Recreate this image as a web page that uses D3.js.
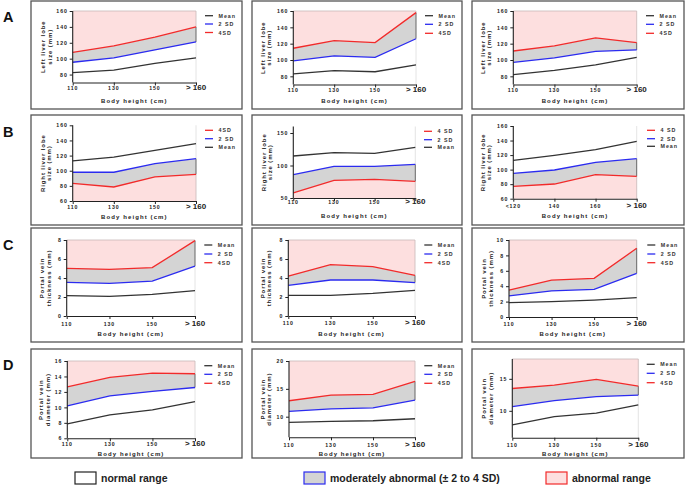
<!DOCTYPE html>
<html><head><meta charset="utf-8">
<script src="https://cdn.jsdelivr.net/npm/d3@7"></script>
<style>body{margin:0;background:#fff} svg{display:block}</style>
</head><body>
<svg id="c" width="685" height="489"></svg>
<script>
// ---------- DATA ----------
const heights   = ["110", "130", "150", "> 160"];
const heightsB3 = ["<120", "140", "160", "> 160"];

const A1_mean = [82.5, 85.5, 94, 101];   const A1_sd2 = [95.5, 101, 111, 121];   const A1_sd4 = [108, 116, 127, 140];
const A2_mean = [83, 87, 85.6, 94];      const A2_sd2 = [99, 105, 103.3, 126];   const A2_sd4 = [114.4, 123.8, 121.3, 158];
const A3_mean = [82, 87.4, 94, 103.3];   const A3_sd2 = [97.2, 102.5, 110.6, 112.3]; const A3_sd4 = [111, 117.2, 127, 121.3];

const B1_mean = [113, 118, 127, 135.7];  const B1_sd2 = [98, 98, 109.3, 116];    const B1_sd4 = [83.4, 78.5, 91.8, 95.3];
const B2_mean = [114.6, 119.7, 118.8, 128]; const B2_sd2 = [85.8, 98.8, 98.8, 101.8]; const B2_sd4 = [57.7, 77.2, 78.7, 75.7];
const B3_mean = [112.8, 119.6, 127.4, 138.9]; const B3_sd2 = [94.9, 99.5, 110, 115]; const B3_sd4 = [77, 80.2, 93, 90.8];

const C1_mean = [2.14, 2.07, 2.28, 2.67]; const C1_sd2 = [3.55, 3.44, 3.68, 5.26]; const C1_sd4 = [5.02, 4.91, 5.09, 7.93];
const C2_mean = [2.18, 2.18, 2.39, 2.7];  const C2_sd2 = [3.23, 3.79, 3.79, 3.51]; const C2_sd4 = [4.21, 5.4, 5.19, 4.28];
const C3_mean = [1.86, 1.99, 2.2, 2.51];  const C3_sd2 = [2.73, 3.38, 3.6, 5.67];  const C3_sd4 = [3.5, 4.8, 5.02, 8.92];

const D1_mean = [7.86, 9.03, 9.68, 10.75]; const D1_sd2 = [10.2, 11.5, 12.06, 12.57]; const D1_sd4 = [12.66, 13.87, 14.44, 14.35];
const D2_mean = [8.97, 9.15, 9.27, 9.63];  const D2_sd2 = [10.95, 11.42, 11.6, 12.99]; const D2_sd4 = [12.86, 13.88, 14.0, 16.35];
const D3_mean = [7.81, 9.11, 9.64, 10.94]; const D3_sd2 = [10.67, 11.61, 12.23, 12.45]; const D3_sd4 = [13.49, 14.01, 14.9, 13.86];

const yTicksLiver = [80, 100, 120, 140, 160];
const yTicksB1 = [60, 80, 100, 120, 140, 160];
const yTicksB2 = [50, 100, 150];
const yTicksC12 = [0, 2, 4, 6, 8];
const yTicksC3 = [0, 2, 4, 6, 8, 10];
const yTicksD1 = [6, 8, 10, 12, 14, 16];
const yTicksD2 = [10, 15, 20];
const yTicksD3 = [10, 15];

const legendUpper = ["Mean", "2 SD", "4SD"];
const legendB1 = ["4SD", "2 SD", "Mean"];
const legendB23 = ["4 SD", "2 SD", "Mean"];

const titleA = ["Left liver lobe", "size (mm)"];
const titleB = ["Right liver lobe", "size (mm)"];
const titleC = ["Portal vein", "thickness (mm)"];
const titleD = ["Portal vein", "diameter (mm)"];
const xTitle = "Body height (cm)";
const bottomLegend = ["normal range", "moderately abnormal (\u00b1 2 to 4 SD)", "abnormal range"];

// ---------- STYLE ----------
const PINK = "#fddfdf", GRAY = "#d4d4d4";
const RED = "#f22a2a", BLUE = "#2b2bf0", BLACK = "#333";
const FONT = "'Liberation Sans', Arial, sans-serif";

// ---------- LAYOUT ----------
const panels = [
  {letter:"A", ly:22, box:[31,1,242,109], x:[72.7,196], dom:[70,160], rng:[82.5,11], cats:heights, mean:A1_mean, sd2:A1_sd2, sd4:A1_sd4, kind:"up", ticks:yTicksLiver, leg:legendUpper, legX:205, legY:[15.7,24,32.5], yt:titleA, ytX:[43,49.5], tickY:90, xtY:103},
  {box:[252,1,462,109], x:[293.3,416], dom:[70,160], rng:[84.5,11], cats:heights, mean:A2_mean, sd2:A2_sd2, sd4:A2_sd4, kind:"up", ticks:yTicksLiver, leg:legendUpper, legX:425, legY:[15.7,24.3,33.3], yt:titleA, ytX:[262.7,268.5], tickY:92, xtY:103},
  {box:[472,1,684,109], x:[513.3,636.7], dom:[70,160], rng:[84.5,11], cats:heights, mean:A3_mean, sd2:A3_sd2, sd4:A3_sd4, kind:"up", ticks:yTicksLiver, leg:legendUpper, legX:646, legY:[15.7,24.3,33.3], yt:titleA, ytX:[483.3,489.3], tickY:92, xtY:103},

  {letter:"B", ly:137, box:[31,115,242,225], x:[72.7,196], dom:[60,160], rng:[201,125.3], cats:heights, mean:B1_mean, sd2:B1_sd2, sd4:B1_sd4, kind:"down", ticks:yTicksB1, leg:legendB1, legX:205, legY:[130.3,138.7,147.3], yt:titleB, ytX:[42.7,49.3], tickY:209, xtY:219},
  {box:[252,115,462,225], x:[293.3,415.3], dom:[50,160], rng:[198,126.5], cats:heights, mean:B2_mean, sd2:B2_sd2, sd4:B2_sd4, kind:"down", ticks:yTicksB2, leg:legendB23, legX:424, legY:[131.3,139.7,147.3], yt:titleB, ytX:[264,270], tickY:204, xtY:218},
  {box:[472,115,684,225], x:[513.3,636.7], dom:[60,160], rng:[198.7,126], cats:heightsB3, mean:B3_mean, sd2:B3_sd2, sd4:B3_sd4, kind:"down", ticks:yTicksB1, leg:legendB23, legX:647, legY:[130.3,138.7,146.3], yt:titleB, ytX:[483,489], tickY:208, xtY:218},

  {letter:"C", ly:250, box:[31,228,242,342], x:[66.7,195], dom:[0,8], rng:[316,240], cats:heights, mean:C1_mean, sd2:C1_sd2, sd4:C1_sd4, kind:"up", ticks:yTicksC12, leg:legendUpper, legX:204.3, legY:[245,254,262.7], yt:titleC, ytX:[41.7,49], tickY:325.5, xtY:335.5},
  {box:[252,228,462,342], x:[288.3,415], dom:[0,8], rng:[316,240], cats:heights, mean:C2_mean, sd2:C2_sd2, sd4:C2_sd4, kind:"up", ticks:yTicksC12, leg:legendUpper, legX:424.3, legY:[245,254,262.7], yt:titleC, ytX:[262.7,268.7], tickY:324.5, xtY:336},
  {box:[472,228,684,342], x:[509,636.7], dom:[0,10], rng:[317,240], cats:heights, mean:C3_mean, sd2:C3_sd2, sd4:C3_sd4, kind:"up", ticks:yTicksC3, leg:legendUpper, legX:647.3, legY:[245,254,262.7], yt:titleC, ytX:[484.3,491], tickY:325.5, xtY:336},

  {letter:"D", ly:370, box:[31,349,242,458], x:[67.3,195], dom:[6,16], rng:[438.3,361], cats:heights, mean:D1_mean, sd2:D1_sd2, sd4:D1_sd4, kind:"up", ticks:yTicksD1, leg:legendUpper, legX:204.3, legY:[365.7,374.3,383.3], yt:titleD, ytX:[40.7,48.3], tickY:446, xtY:456},
  {box:[252,349,462,458], x:[289,415], dom:[6.3,20], rng:[437.3,361], cats:heights, mean:D2_mean, sd2:D2_sd2, sd4:D2_sd4, kind:"up", ticks:yTicksD2, leg:legendUpper, legX:424.3, legY:[365.7,374.3,383.3], yt:titleD, ytX:[262.7,268.7], tickY:446.5, xtY:456},
  {box:[472,349,684,458], x:[512.3,638.3], dom:[5.8,18.1], rng:[437.7,359], cats:heights, mean:D3_mean, sd2:D3_sd2, sd4:D3_sd4, kind:"up", ticks:yTicksD3, leg:legendUpper, legX:646.7, legY:[364.3,373.3,382.7], yt:titleD, ytX:[484.3,491], tickY:446.5, xtY:456}
];

const svg = d3.select("#c");

function drawPanel(p) {
  const g = svg.append("g");
  g.append("rect").attr("x", p.box[0]).attr("y", p.box[1])
    .attr("width", p.box[2]-p.box[0]).attr("height", p.box[3]-p.box[1])
    .attr("fill", "none").attr("stroke", "#555").attr("stroke-width", 1.3);
  if (p.letter) {
    g.append("text").attr("x", 3).attr("y", p.ly).text(p.letter)
      .attr("font-family", FONT).attr("font-weight", "bold").attr("font-size", 14.5).attr("fill", "#111");
  }
  const x = d3.scalePoint().domain(p.cats).range(p.x).padding(0);
  const y = d3.scaleLinear().domain(p.dom).range(p.rng);
  const idx = d3.range(p.cats.length);
  const cx = i => x(p.cats[i]);
  const edge = p.kind === "up" ? p.dom[1] : p.dom[0];

  const pinkArea = d3.area().x(cx).y0(() => y(edge)).y1(i => y(p.sd4[i]));
  g.append("path").attr("d", pinkArea(idx)).attr("fill", PINK).attr("stroke", "none");
  if (p.kind === "up") {
    g.append("line").attr("x1", p.x[0]).attr("x2", p.x[1]).attr("y1", y(edge)).attr("y2", y(edge))
      .attr("stroke", "#c8b8b8").attr("stroke-width", 0.8);
  }
  g.append("line").attr("x1", p.x[1]).attr("x2", p.x[1]).attr("y1", y(edge)).attr("y2", y(p.sd4[3]))
    .attr("stroke", "#c8b8b8").attr("stroke-width", 0.8);
  const grayArea = d3.area().x(cx).y0(i => y(p.sd2[i])).y1(i => y(p.sd4[i]));
  g.append("path").attr("d", grayArea(idx)).attr("fill", GRAY).attr("stroke", "none");
  g.append("line").attr("x1", p.x[1]).attr("x2", p.x[1]).attr("y1", y(p.sd2[3])).attr("y2", y(p.sd4[3]))
    .attr("stroke", "#666").attr("stroke-width", 1);
  const lowEdge = p.kind === "up" ? p.dom[0] : p.dom[1];
  g.append("line").attr("x1", p.x[1]).attr("x2", p.x[1]).attr("y1", y(lowEdge)).attr("y2", y(p.sd2[3]))
    .attr("stroke", "#ddd").attr("stroke-width", 0.8);

  const line = d3.line().x(cx);
  const series = [[p.mean, BLACK], [p.sd2, BLUE], [p.sd4, RED]];
  series.forEach(([vals, col]) => {
    g.append("path").attr("d", line.y(i => y(vals[i]))(idx))
      .attr("fill", "none").attr("stroke", col).attr("stroke-width", 1.3);
  });

  const ya = g.append("g").attr("transform", `translate(${p.x[0]},0)`)
    .call(d3.axisLeft(y).tickValues(p.ticks).tickSize(3).tickPadding(2).tickSizeOuter(0));
  ya.select(".domain").attr("stroke", "#222").attr("stroke-width", 1.1).attr("d", `M0,${p.rng[0]}V${p.rng[1]}`);
  ya.selectAll(".tick line").attr("stroke", "#222").attr("stroke-width", 1);
  ya.selectAll(".tick text").attr("font-family", FONT).attr("font-weight", "bold")
    .attr("font-size", 5.2).attr("letter-spacing", 0.9).attr("fill", "#222");

  const xa = g.append("g").attr("transform", `translate(0,${p.rng[0]})`)
    .call(d3.axisBottom(x).tickSize(3).tickSizeOuter(0).tickFormat(() => ""));
  xa.select(".domain").attr("stroke", "#222").attr("stroke-width", 1.1);
  xa.selectAll(".tick line").attr("stroke", "#222").attr("stroke-width", 1);
  p.cats.forEach((c) => {
    const big = c === "> 160";
    g.append("text").attr("x", x(c)).attr("y", p.tickY).text(c)
      .attr("text-anchor", "middle").attr("font-family", FONT).attr("font-weight", "bold")
      .attr("font-size", big ? 8 : 5.2).attr("letter-spacing", big ? 0 : 0.9).attr("fill", "#222");
  });
  g.append("text").attr("x", (p.x[0]+p.x[1])/2).attr("y", p.xtY).text(xTitle)
    .attr("text-anchor", "middle").attr("font-family", FONT).attr("font-weight", "bold")
    .attr("font-size", 6).attr("letter-spacing", 1.1).attr("fill", "#222");
  const midY = (p.rng[0]+p.rng[1])/2;
  p.yt.forEach((t, k) => {
    g.append("text").attr("transform", `translate(${p.ytX[k]+2},${midY}) rotate(-90)`).text(t)
      .attr("text-anchor", "middle").attr("font-family", FONT).attr("font-weight", "bold")
      .attr("font-size", 6).attr("letter-spacing", 0.9).attr("fill", "#222");
  });
  p.leg.forEach((lab, k) => {
    const col = lab === "Mean" ? BLACK : (lab.indexOf("2") === 0 ? BLUE : RED);
    g.append("line").attr("x1", p.legX).attr("x2", p.legX+8).attr("y1", p.legY[k]).attr("y2", p.legY[k])
      .attr("stroke", col).attr("stroke-width", 1.3);
    g.append("text").attr("x", p.legX+13.5).attr("y", p.legY[k]+2).text(lab)
      .attr("font-family", FONT).attr("font-weight", "bold").attr("font-size", 5.3)
      .attr("letter-spacing", 1).attr("fill", "#333");
  });
}
panels.forEach(drawPanel);

const lg = [
  {x: 75, fill: "#fff", stroke: "#222"},
  {x: 304, fill: "#d4d4d4", stroke: "#2b2bf0"},
  {x: 546, fill: "#fddfdf", stroke: "#f22a2a"}
];
bottomLegend.forEach((t, i) => {
  svg.append("rect").attr("x", lg[i].x).attr("y", 472).attr("width", 21).attr("height", 12)
    .attr("fill", lg[i].fill).attr("stroke", lg[i].stroke).attr("stroke-width", 1.2);
  svg.append("text").attr("x", lg[i].x + 26).attr("y", 482).text(t)
    .attr("font-family", FONT).attr("font-weight", "bold").attr("font-size", 10.5).attr("fill", "#222");
});
</script>
</body></html>
